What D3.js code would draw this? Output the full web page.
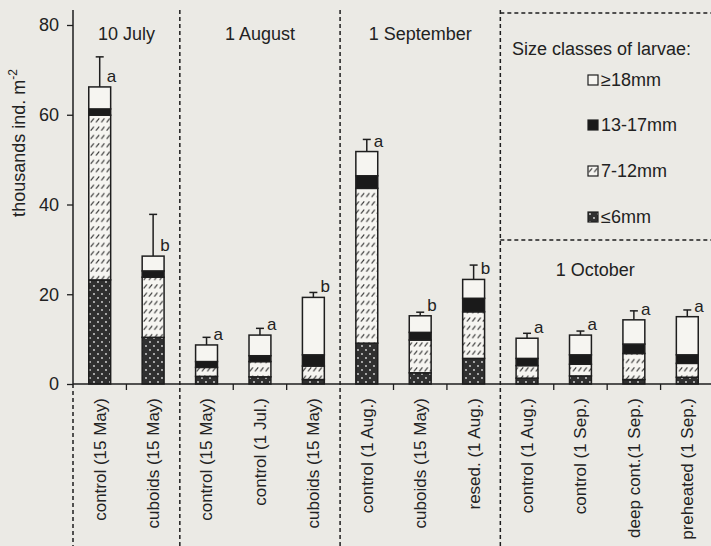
<!DOCTYPE html>
<html>
<head>
<meta charset="utf-8">
<script src="https://cdn.jsdelivr.net/npm/d3@7"></script>
<style>
  body { margin: 0; background: #ebeae5; }
  svg { display: block; font-family: "Liberation Sans", Arial, sans-serif; }
</style>
</head>
<body>
<svg id="chart"></svg>
<script>
// periods (panels) and the treatments inside them
const periods = ["10 July", "1 August", "1 September", "1 October"];
const treatments = [
    "control (15 May)", "cuboids (15 May)",
    "control (15 May)", "control (1 Jul.)", "cuboids (15 May)",
    "control (1 Aug.)", "cuboids (15 May)", "resed. (1 Aug.)",
    "control (1 Aug.)", "control (1 Sep.)", "deep cont.(1 Sep.)", "preheated (1 Sep.)"
];
const periodOf = [0, 0, 1, 1, 1, 2, 2, 2, 3, 3, 3, 3];

// size classes, bottom to top of the stack
const sizeClasses = ["≤6mm", "7-12mm", "13-17mm", "≥18mm"];
const le6mm    = [23.2, 10.4, 1.7, 1.6, 1.0,  9.1, 2.5,  5.7, 1.3, 1.8, 1.0, 1.5];
const mm7to12  = [36.7, 13.4, 2.0, 3.4, 3.0, 34.5, 7.3, 10.4, 2.8, 2.6, 5.8, 3.1];
const mm13to17 = [ 1.4,  1.4, 1.3, 1.3, 2.5,  2.8, 1.7,  3.0, 1.6, 2.1, 2.1, 1.9];
const ge18mm   = [ 4.9,  3.3, 3.7, 4.6, 12.8, 5.4, 3.7,  4.2, 4.5, 4.4, 5.4, 8.5];
const errUp    = [ 6.7,  9.3, 1.7, 1.5, 1.1,  2.7, 0.8,  3.2, 1.1, 0.9, 2.0, 1.5];
const letters  = ["a", "b", "a", "a", "b", "a", "b", "b", "a", "a", "a", "a"];
const yTicks = [0, 20, 40, 60, 80];

const width = 711, height = 546;
const ink = "#1e1e1e";

const svg = d3.select("#chart").attr("width", width).attr("height", height);

const defs = svg.append("defs");
// hatched 7-12mm
const hatch = defs.append("pattern").attr("id", "hatch")
    .attr("patternUnits", "userSpaceOnUse").attr("width", 5.3).attr("height", 8.3);
hatch.append("rect").attr("width", 5.3).attr("height", 8.3).attr("fill", "#f6f5f1");
hatch.append("line").attr("x1", 0.6).attr("y1", 6.2).attr("x2", 3.8).attr("y2", 2.2)
    .attr("stroke", "#333").attr("stroke-width", 1.1);
// dotted dark <=6mm
const dots = defs.append("pattern").attr("id", "dots")
    .attr("patternUnits", "userSpaceOnUse").attr("width", 8).attr("height", 8);
dots.append("rect").attr("width", 8).attr("height", 8).attr("fill", "#303030");
dots.append("circle").attr("cx", 2).attr("cy", 2).attr("r", 0.9).attr("fill", "#ddd");
dots.append("circle").attr("cx", 6).attr("cy", 6).attr("r", 0.9).attr("fill", "#ddd");

const fills = ["url(#dots)", "url(#hatch)", "#1a1a1a", "#f6f5f1"];

const x = d3.scaleBand().domain(d3.range(treatments.length))
    .range([73, 714]).paddingInner(0.59).paddingOuter(0.295);
const y = d3.scaleLinear().domain([0, 80]).range([384, 25]);
const boundary = i => x(i) - (x.step() - x.bandwidth()) / 2;

// stacked data
const table = treatments.map((t, i) => ({
    i, "≤6mm": le6mm[i], "7-12mm": mm7to12[i], "13-17mm": mm13to17[i], "≥18mm": ge18mm[i]
}));
const series = d3.stack().keys(sizeClasses)(table);

// panel dividers (dashed)
const dividers = [];
for (let i = 1; i < treatments.length; i++) {
    if (periodOf[i] !== periodOf[i - 1]) dividers.push(i);
}
svg.append("g").selectAll("line").data(dividers).enter().append("line")
    .attr("x1", d => boundary(d)).attr("x2", d => boundary(d))
    .attr("y1", 10).attr("y2", height)
    .attr("stroke", ink).attr("stroke-width", 1.5).attr("stroke-dasharray", "4,3");

// legend box lines
const lastDiv = boundary(dividers[dividers.length - 1]);
svg.append("line").attr("x1", lastDiv).attr("x2", width).attr("y1", 13).attr("y2", 13)
    .attr("stroke", ink).attr("stroke-width", 1.5).attr("stroke-dasharray", "4,3");
svg.append("line").attr("x1", lastDiv).attr("x2", width).attr("y1", 240).attr("y2", 240)
    .attr("stroke", ink).attr("stroke-width", 1.5).attr("stroke-dasharray", "4,3");

// y axis
const yAxis = svg.append("g").attr("transform", `translate(${x.range()[0]},0)`)
    .call(d3.axisLeft(y).tickValues(yTicks).tickSize(6).tickPadding(8));
yAxis.select(".domain").remove();
yAxis.selectAll("line").attr("stroke", ink).attr("stroke-width", 1.3);
yAxis.selectAll("text").attr("font-size", 18).attr("fill", "#222").attr("font-family", null);
svg.append("line").attr("x1", 73).attr("x2", 73).attr("y1", 10).attr("y2", y(0))
    .attr("stroke", ink).attr("stroke-width", 1.5);
svg.append("line").attr("x1", 73).attr("x2", 73).attr("y1", y(0)).attr("y2", height)
    .attr("stroke", ink).attr("stroke-width", 1.5).attr("stroke-dasharray", "4,3");

svg.append("text")
    .attr("transform", `translate(25,143) rotate(-90)`)
    .attr("text-anchor", "middle").attr("font-size", 18).attr("fill", "#222")
    .text("thousands ind. m")
    .append("tspan").attr("dy", -8).attr("font-size", 12).text("-2");

// bars
svg.append("g").selectAll("g").data(series).enter().append("g")
    .attr("fill", (d, k) => fills[k])
    .selectAll("rect").data(d => d).enter().append("rect")
    .attr("x", d => x(d.data.i))
    .attr("y", d => y(d[1]))
    .attr("width", x.bandwidth())
    .attr("height", d => y(d[0]) - y(d[1]))
    .attr("stroke", ink).attr("stroke-width", 1.5);

// error bars and letters
const totals = table.map((d, i) => le6mm[i] + mm7to12[i] + mm13to17[i] + ge18mm[i]);
const err = svg.append("g");
err.selectAll("line.v").data(totals).enter().append("line")
    .attr("x1", (d, i) => x(i) + x.bandwidth() / 2).attr("x2", (d, i) => x(i) + x.bandwidth() / 2)
    .attr("y1", d => y(d)).attr("y2", (d, i) => y(d + errUp[i]))
    .attr("stroke", ink).attr("stroke-width", 1.5);
err.selectAll("line.c").data(totals).enter().append("line")
    .attr("x1", (d, i) => x(i) + x.bandwidth() / 2 - 4).attr("x2", (d, i) => x(i) + x.bandwidth() / 2 + 4)
    .attr("y1", (d, i) => y(d + errUp[i])).attr("y2", (d, i) => y(d + errUp[i]))
    .attr("stroke", ink).attr("stroke-width", 1.5);
err.selectAll("text").data(totals).enter().append("text")
    .attr("x", (d, i) => x(i) + x.bandwidth() / 2 + 7)
    .attr("y", d => y(d) - 5)
    .attr("font-size", 17).attr("fill", "#222")
    .text((d, i) => letters[i]);

// x axis: line, boundary ticks, rotated labels
svg.append("line").attr("x1", 73).attr("x2", width).attr("y1", y(0)).attr("y2", y(0))
    .attr("stroke", ink).attr("stroke-width", 1.5);
const innerTicks = d3.range(1, treatments.length).filter(i => periodOf[i] === periodOf[i - 1]);
svg.append("g").selectAll("line").data(innerTicks).enter().append("line")
    .attr("x1", d => boundary(d)).attr("x2", d => boundary(d))
    .attr("y1", y(0)).attr("y2", y(0) + 6)
    .attr("stroke", ink).attr("stroke-width", 1.3);

const xAxis = svg.append("g").attr("transform", `translate(0,${y(0)})`)
    .call(d3.axisBottom(x).tickSize(0).tickFormat(i => treatments[i]));
xAxis.select(".domain").remove();
xAxis.selectAll("text")
    .attr("font-size", 17).attr("fill", "#222").attr("font-family", null)
    .attr("text-anchor", "end")
    .attr("transform", "rotate(-90)")
    .attr("x", -14).attr("y", 0).attr("dy", "0.35em");

// panel titles
const panelTitles = periods.map((p, k) => {
    const idx = d3.range(treatments.length).filter(i => periodOf[i] === k);
    const left = boundary(idx[0]);
    const right = boundary(idx[idx.length - 1]) + x.step();
    return { p, k, cx: (left + right) / 2 };
});
svg.append("g").selectAll("text").data(panelTitles).enter().append("text")
    .attr("x", d => d.k === 3 ? d.cx - 12 : d.cx)
    .attr("y", d => d.k === 3 ? 276 : 40)
    .attr("text-anchor", "middle").attr("font-size", 18).attr("fill", "#222")
    .text(d => d.p);

// legend
const lg = svg.append("g");
lg.append("text").attr("x", 512).attr("y", 55).attr("font-size", 18).attr("fill", "#222")
    .text("Size classes of larvae:");
const legendOrder = [3, 2, 1, 0];
const legendY = [80, 125, 171, 217];
legendOrder.forEach((k, j) => {
    lg.append("rect").attr("x", 588).attr("y", legendY[j] - 5).attr("width", 10).attr("height", 10)
        .attr("fill", fills[k]).attr("stroke", ink).attr("stroke-width", 1.2);
    lg.append("text").attr("x", 601).attr("y", legendY[j]).attr("dy", "0.35em")
        .attr("font-size", 18).attr("fill", "#222").text(sizeClasses[k]);
});
</script>
</body>
</html>
